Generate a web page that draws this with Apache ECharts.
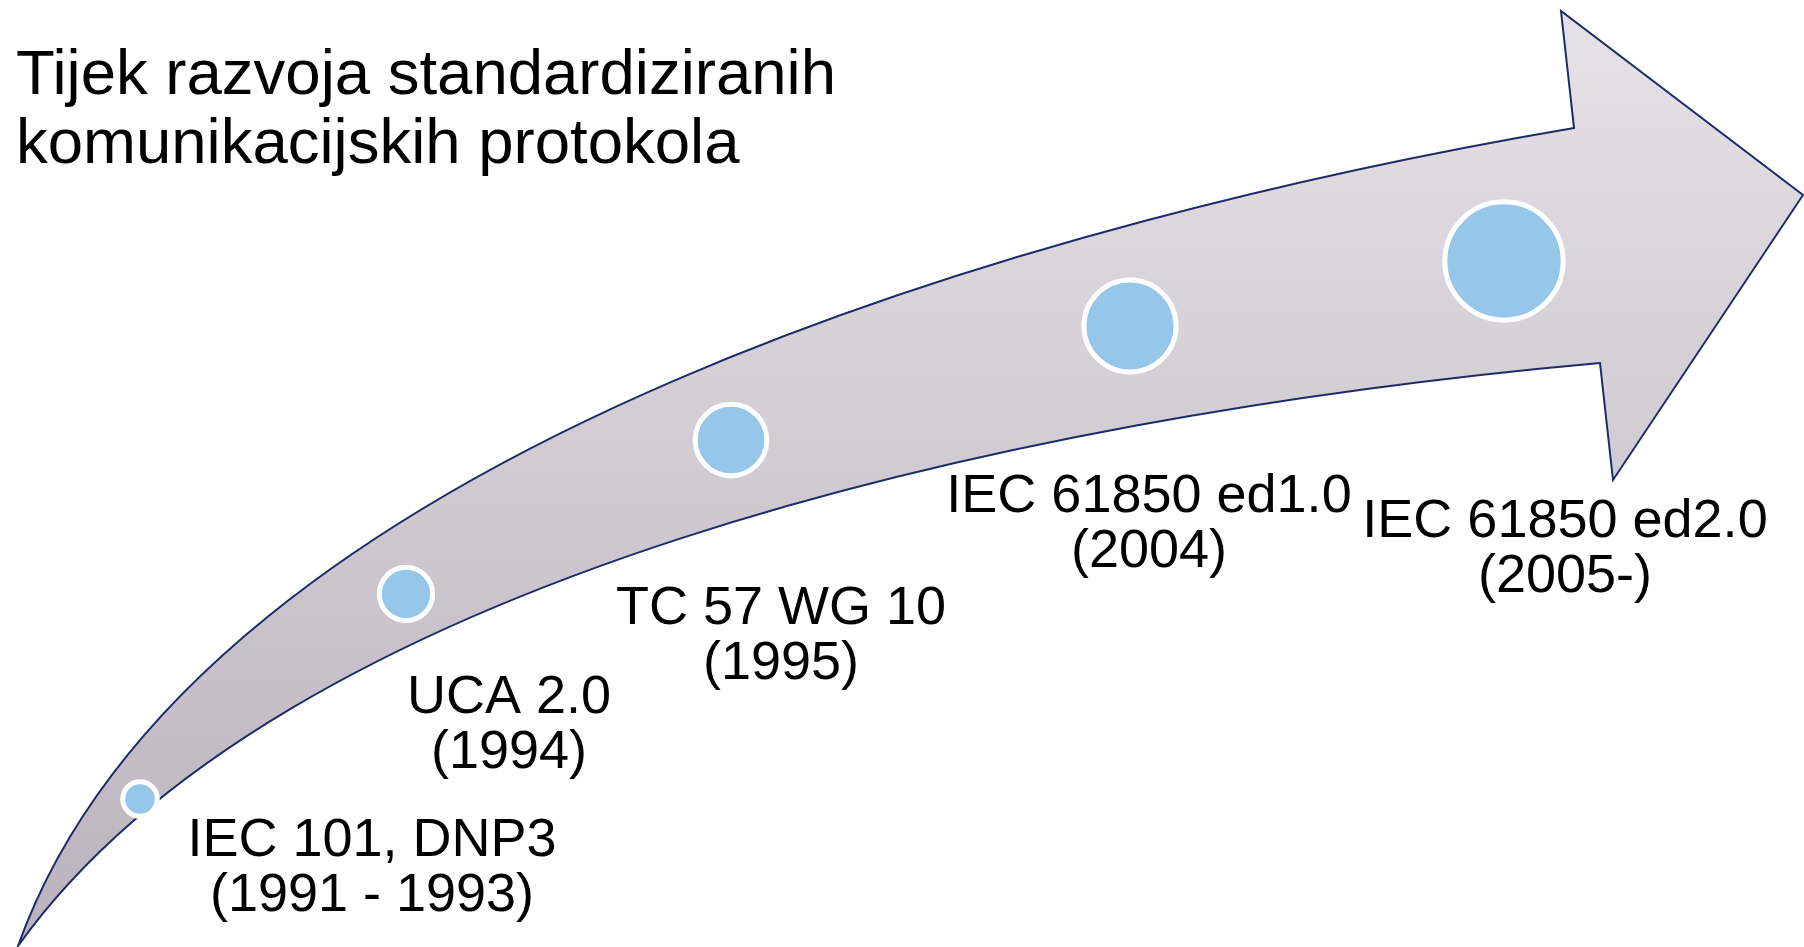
<!DOCTYPE html>
<html>
<head>
<meta charset="utf-8">
<script src="https://cdn.jsdelivr.net/npm/echarts@6/dist/echarts.min.js"></script>
<style>
  html, body { margin: 0; padding: 0; background: #ffffff; }
  #chart { width: 1804px; height: 947px; }
</style>
</head>
<body>
<div id="chart"></div>
<script>
// ---- Data ----
const titleText = 'Tijek razvoja standardiziranih\nkomunikacijskih protokola';
const milestoneNames = ['IEC 101, DNP3', 'UCA 2.0', 'TC 57 WG 10', 'IEC 61850 ed1.0', 'IEC 61850 ed2.0'];
const milestoneYears = ['(1991 - 1993)', '(1994)', '(1995)', '(2004)', '(2005-)'];
const milestoneX = [140, 406, 731, 1130, 1504];
const milestoneY = [799, 594, 440, 326, 261];

// ---- Layout / style (not data) ----
const markerSizes = [34.5, 53.3, 71.7, 92.2, 118.3];
const labelOffsets = [[232, 70], [103, 132], [50, 197], [19, 199], [61, 289]];

// Arrow outline in axis units (decorative backdrop)
const arrowShape = {
  tail: [18, 946],
  upper: [[198, 442], [1074, 213], [1574, 128]],
  head: [[1561, 11], [1803, 195], [1613, 480], [1600, 363]],
  lower: [[1000, 416.7], [278, 582], [18, 946]]
};

const chart = echarts.init(document.getElementById('chart'), null, { renderer: 'canvas' });

const scatterData = milestoneNames.map((n, i) => ({
  name: n,
  value: [milestoneX[i], milestoneY[i]],
  symbolSize: markerSizes[i],
  label: { offset: labelOffsets[i] }
}));

const option = {
  animation: false,
  backgroundColor: '#ffffff',
  title: {
    text: titleText,
    left: 11,
    top: 37,
    textStyle: {
      fontFamily: 'Liberation Sans, Arial, sans-serif',
      fontSize: 63.5,
      fontWeight: 'normal',
      color: '#000000',
      lineHeight: 69
    }
  },
  grid: { left: 0, right: 0, top: 0, bottom: 0 },
  xAxis: { type: 'value', min: 0, max: 1804, show: false },
  yAxis: { type: 'value', min: 0, max: 947, inverse: true, show: false },
  series: [
    {
      type: 'custom',
      z: 1,
      silent: true,
      data: [[0, 0]],
      renderItem: function (params, api) {
        const c = p => api.coord(p);
        const t = c(arrowShape.tail);
        const u = arrowShape.upper.map(c);
        const h = arrowShape.head.map(c);
        const l = arrowShape.lower.map(c);
        const d = 'M' + t[0] + ' ' + t[1] +
          ' C' + u[0].join(' ') + ' ' + u[1].join(' ') + ' ' + u[2].join(' ') +
          ' L' + h[0].join(' ') + ' L' + h[1].join(' ') + ' L' + h[2].join(' ') + ' L' + h[3].join(' ') +
          ' C' + l[0].join(' ') + ' ' + l[1].join(' ') + ' ' + l[2].join(' ') + ' Z';
        return {
          type: 'path',
          shape: { pathData: d },
          style: {
            fill: {
              type: 'linear', x: 0, y: 0, x2: 0, y2: 1,
              colorStops: [
                { offset: 0, color: '#e6e2e6' },
                { offset: 1, color: '#bab2bd' }
              ]
            },
            stroke: '#1f2a68',
            lineWidth: 2,
            lineJoin: 'miter'
          }
        };
      }
    },
    {
      type: 'scatter',
      z: 2,
      symbol: 'circle',
      data: scatterData,
      itemStyle: {
        color: '#96c6ea',
        borderColor: '#ffffff',
        borderWidth: 5,
        opacity: 1
      },
      label: {
        show: true,
        position: 'inside',
        align: 'center',
        verticalAlign: 'middle',
        fontFamily: 'Liberation Sans, Arial, sans-serif',
        fontSize: 54,
        lineHeight: 55,
        color: '#000000',
        formatter: function (p) {
          return p.name + '\n' + milestoneYears[p.dataIndex];
        }
      },
      emphasis: { disabled: true }
    }
  ]
};

chart.setOption(option);
</script>
</body>
</html>
